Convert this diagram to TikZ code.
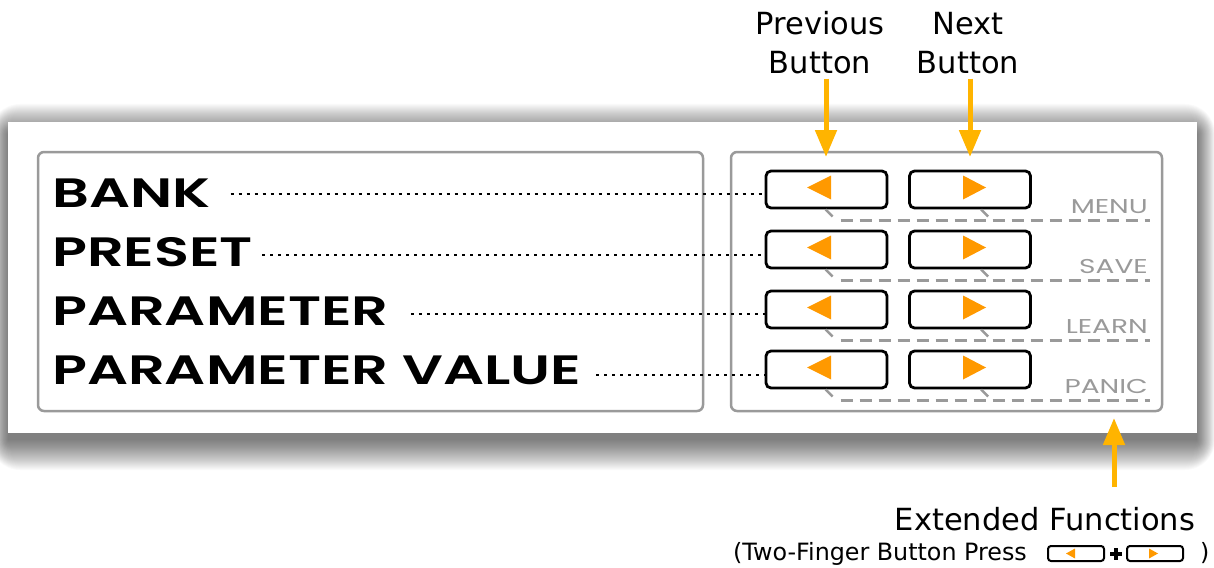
\documentclass[tikz,border=0pt]{standalone}
\usepackage{fontspec}
\setmainfont{DejaVu Sans}
\newfontfamily\lcdfont[FakeStretch=1.4]{Poppins SemiBold}
\newfontfamily\fnfont[FakeStretch=1.4]{Poppins}
\usetikzlibrary{arrows.meta,calc}
\definecolor{amber}{HTML}{FFB400}
\definecolor{tri}{HTML}{FF9900}
\definecolor{pgray}{HTML}{9A9A9A}
\tikzset{
  lcd/.style={anchor=base west, inner sep=0pt, font=\lcdfont\fontsize{41}{41}\selectfont},
  fn/.style={anchor=base east, inner sep=0pt, text=pgray, font=\fnfont\fontsize{20}{20}\selectfont},
  btn/.style={draw=black, line width=2.8pt, rounded corners=5pt, minimum width=121pt, minimum height=37pt, inner sep=0pt},
  minibtn/.style={draw=black, line width=2pt, rounded corners=3pt, minimum width=56pt, minimum height=15pt, inner sep=0pt},
  panelbox/.style={draw=pgray, line width=2.5pt, rounded corners=6pt},
  dotline/.style={line width=2.2pt, dash pattern=on 3pt off 5pt},
  dashline/.style={draw=pgray, line width=2.5pt, dash pattern=on 12pt off 7pt},
  tick/.style={draw=pgray, line width=2.5pt},
  callout/.style={draw=amber, line width=5pt, -{Triangle[width=21pt,length=27pt]}},
  lbl/.style={font=\fontsize{30.5}{39}\selectfont, align=center, inner sep=0pt, anchor=base},
}
\begin{document}
\begin{tikzpicture}[x=1pt,y=-1pt]
\useasboundingbox (0,0) rectangle (1214,567);
\fill[white] (0,0) rectangle (1214,567);
% shadow
\foreach \i in {0,...,30}{
  \fill[black, opacity=0.02, rounded corners=\i pt] (8-0.6*\i,134-\i) rectangle (1197+0.6*\i,440+\i);
}
\fill[white] (8,122) rectangle (1197,433);
% boxes
\draw[panelbox] (38,152) rectangle (703,411);
\draw[panelbox] (731,152) rectangle (1162,411);
% text
\node[lcd] (t1) at (52,207) {BANK};
\node[lcd] (t2) at (52,266) {PRESET};
\node[lcd] (t3) at (52,325) {PARAMETER};
\node[lcd] (t4) at (52,384) {PARAMETER VALUE};
% buttons
\foreach \r/\cy in {1/189.5,2/249.5,3/309.5,4/369.5}{
  \node[btn] (l\r) at (826.5,\cy) {};
  \node[btn] (r\r) at (970,\cy) {};
  \fill[tri] ($(l\r)+(-19.5,-2)$) -- ($(l\r)+(4.5,-14)$) -- ($(l\r)+(4.5,10)$) -- cycle;
  \fill[tri] ($(r\r)+(16,-2)$) -- ($(r\r)+(-7,-14)$) -- ($(r\r)+(-7,10)$) -- cycle;
  \draw[tick] ($(l\r.south west)+(61,0)$) -- ++(7,7);
  \draw[tick] ($(r\r.south west)+(73,0)$) -- ++(7,7);
  \draw[dashline] ($(l\r.south west)+(76,11)$) -- ++(309,0);
}
\node[fn] (f1) at (1148,213) {MENU};
\node[fn] (f2) at (1148,273) {SAVE};
\node[fn] (f3) at (1148,333) {LEARN};
\node[fn] (f4) at (1148,393) {PANIC};
% dotted leaders
\coordinate (d1) at ($(t1.base east)+(20,-13)$);
\coordinate (d2) at ($(t2.base east)+(9,-11)$);
\coordinate (d3) at ($(t3.base east)+(22,-11)$);
\coordinate (d4) at ($(t4.base east)+(15,-9)$);
\draw[dotline] (d1) -- (d1 -| l1.west);
\draw[dotline] (d2) -- (d2 -| l2.west);
\draw[dotline] (d3) -- (d3 -| l3.west);
\draw[dotline] (d4) -- (d4 -| l4.west);
% top labels
\node[lbl] (prev) at (820,74) {Previous\\Button};
\node[lbl] (next) at (968,74) {Next\\Button};
\coordinate (pa) at (826,157);
\coordinate (na) at (970,157);
\draw[callout] ($(pa |- prev.south)+(0,4)$) -- (pa);
\draw[callout] ($(na |- next.south)+(0,4)$) -- (na);
% extended
\node[lbl] (ext) at (1045,530) {Extended Functions};
\coordinate (ea0) at (1114,487);
\coordinate (ea1) at (1114,418);
\draw[callout] (ea0) -- (ea1);
\node[anchor=base west, inner sep=0pt, font=\fontsize{23.8}{23.8}\selectfont] (tf) at (733,560) {(Two-Finger Button Press};
\node[minibtn] (m1) at (1076,553.5) {};
\node[minibtn] (m2) at (1155,553.5) {};
\fill[tri] ($(m1)+(-10,0)$) -- ($(m1)+(-1,-5)$) -- ($(m1)+(-1,5)$) -- cycle;
\fill[tri] ($(m2)+(3,0)$) -- ($(m2)+(-6,-5)$) -- ($(m2)+(-6,5)$) -- cycle;
\draw[line width=3.2pt] (1110,554) -- (1122,554) (1116,548) -- (1116,560);
\node[anchor=base west, inner sep=0pt, font=\fontsize{23.8}{23.8}\selectfont] (cp) at (1200,560) {)};
\end{tikzpicture}
\end{document}
